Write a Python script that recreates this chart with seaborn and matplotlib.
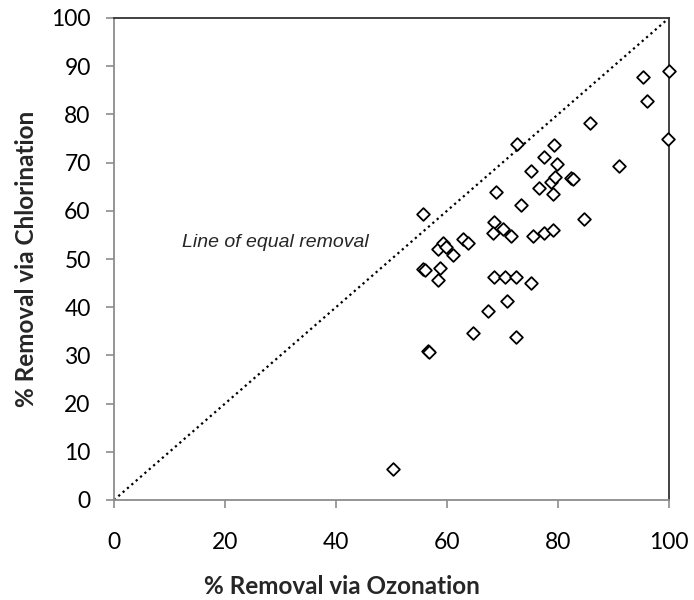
import matplotlib
matplotlib.use("Agg")
import matplotlib.pyplot as plt
import seaborn as sns
import pandas as pd

ozonation = [50.2, 55.7, 55.7, 56.0, 56.6, 56.8, 58.3, 58.7, 58.4, 59.3, 59.8, 61.0,
             62.9, 63.7, 64.7, 67.4, 68.4, 68.3, 68.5, 68.9, 70.0, 70.5, 70.8, 71.6,
             72.5, 72.5, 72.6, 73.4, 75.1, 75.1, 75.5, 76.5, 77.5, 77.5, 78.8, 79.1,
             79.1, 79.2, 79.4, 79.9, 82.4, 82.7, 84.7, 85.8, 91.0, 95.3, 96.0, 99.8, 100.0]
chlorination = [6.5, 59.3, 48.0, 47.7, 30.9, 30.7, 45.6, 48.2, 52.0, 53.4, 52.5, 50.8,
                54.1, 53.4, 34.7, 39.2, 57.7, 55.3, 46.2, 63.9, 56.3, 46.2, 41.2, 54.8,
                46.2, 33.9, 73.8, 61.1, 68.3, 45.1, 54.8, 64.8, 71.2, 55.3, 66.0, 63.4,
                56.0, 73.6, 67.0, 69.7, 66.9, 66.5, 58.4, 78.2, 69.2, 87.7, 82.7, 74.9, 89.1]
equal_line = [0, 100]
x_ticks = [0, 20, 40, 60, 80, 100]
y_ticks = [0, 10, 20, 30, 40, 50, 60, 70, 80, 90, 100]

df = pd.DataFrame({"ozonation": ozonation, "chlorination": chlorination})

sns.set_style("white")
plt.rcParams['font.family'] = ['Lato', 'DejaVu Sans']

fig = plt.figure(figsize=(6.94, 6.0), dpi=100)
ax = fig.add_axes([114/694, 1 - 500/600, 555/694, 482/600])

ax.plot(equal_line, equal_line, color="black", linestyle=(0, (1, 1.6)), linewidth=1.6, zorder=1)
sns.scatterplot(data=df, x="ozonation", y="chlorination", marker="D", s=42,
                facecolor="white", edgecolor="black", linewidth=1.3, ax=ax, zorder=3,
                clip_on=False)

ax.set_xlim(0, 100)
ax.set_ylim(0, 100)
ax.set_xticks(x_ticks)
ax.set_yticks(y_ticks)
ax.tick_params(axis="both", which="major", direction="out", length=5.8, width=1.2,
               color="#8c8c8c", labelsize=16.5, labelcolor="black",
               bottom=True, left=True)
ax.tick_params(axis="x", pad=17)
ax.tick_params(axis="y", pad=11)

for side in ["left", "bottom"]:
    ax.spines[side].set_color("#8c8c8c")
    ax.spines[side].set_linewidth(1.3)
for side in ["top", "right"]:
    ax.spines[side].set_color("#333333")
    ax.spines[side].set_linewidth(1.3)
    ax.spines[side].set_visible(True)

ax.set_xlabel("% Removal via Ozonation", fontsize=17.5, fontweight="bold", va="top")
ax.set_ylabel("% Removal via Chlorination", fontsize=17.5, fontweight="bold")
ax.xaxis.set_label_coords(0.41, -0.156)
ax.yaxis.set_label_coords(-0.137, 0.5)

ax.text(12.3, 52.55, "Line of equal removal", fontsize=14, style="italic",
        family=["Liberation Sans", "DejaVu Sans"], ha="left", va="baseline")

fig.savefig("out.png", dpi=100)
